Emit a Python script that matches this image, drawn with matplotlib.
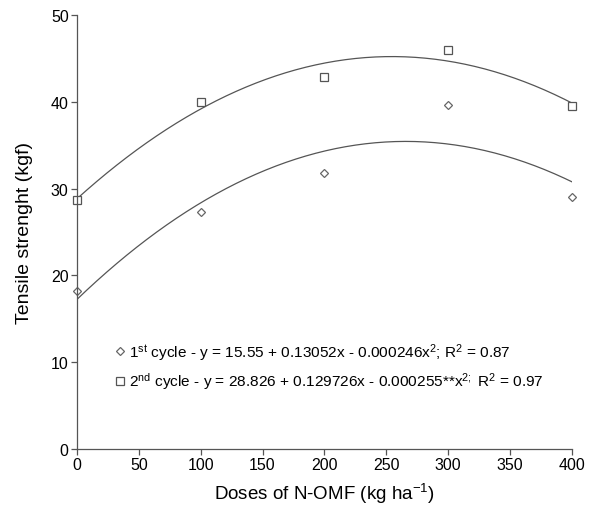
import numpy as np
import matplotlib
matplotlib.use('Agg')
import matplotlib.pyplot as plt

plt.rcParams['font.family'] = ['Liberation Sans', 'DejaVu Sans']
plt.rcParams['mathtext.fontset'] = 'custom'
plt.rcParams['mathtext.rm'] = 'Liberation Sans'
plt.rcParams['mathtext.it'] = 'Liberation Sans'

# data
doses = [0, 100, 200, 300, 400]
cycle1 = [18.2, 27.3, 31.8, 39.6, 29.0]
cycle2 = [28.7, 40.0, 42.9, 46.0, 39.5]

label1 = r'1$^{\rm st}$ cycle - y = 15.55 + 0.13052x - 0.000246x$^{2}$; R$^{2}$ = 0.87'
label2 = r'2$^{\rm nd}$ cycle - y = 28.826 + 0.129726x - 0.000255**x$^{2;}$ R$^{2}$ = 0.97'

# quadratic trendlines (least squares, as the spreadsheet does)
xs = np.linspace(0, 400, 200)
fit1 = np.polyval(np.polyfit(doses, cycle1, 2), xs)
fit2 = np.polyval(np.polyfit(doses, cycle2, 2), xs)

fig = plt.figure(figsize=(5.95, 5.06), dpi=100)
ax = fig.add_axes([0.1294, 0.1107, 0.8316, 0.8573])

line_col = '#555555'
ax.plot(xs, fit2, color=line_col, lw=0.9)
ax.plot(xs, fit1, color=line_col, lw=0.9)
h1, = ax.plot(doses, cycle1, linestyle='none', marker='D', ms=3.8, mfc='white',
              mec='#666666', mew=0.9, label=label1, clip_on=False)
h2, = ax.plot(doses, cycle2, linestyle='none', marker='s', ms=5.5, mfc='white',
              mec='#555555', mew=0.9, label=label2, clip_on=False)

ax.set_xlim(0, 400)
ax.set_ylim(0, 50)
ax.set_xticks(range(0, 401, 50))
ax.set_yticks(range(0, 51, 10))
for s in ['top', 'right']:
    ax.spines[s].set_visible(False)
for s in ['left', 'bottom']:
    ax.spines[s].set_color('#555555')
    ax.spines[s].set_linewidth(0.9)
ax.tick_params(direction='out', length=4, width=0.9, color='#555555',
               labelsize=11.5, pad=2)

ax.set_xlabel(r'Doses of N-OMF (kg ha$^{-1}$)', fontsize=13.5, labelpad=6)
ax.set_ylabel('Tensile strenght (kgf)', fontsize=14, labelpad=13)

ax.legend(handles=[h1, h2], loc='upper left', bbox_to_anchor=(0.065, 0.263),
          frameon=False, fontsize=11.1, handlelength=0.6, handletextpad=0.3,
          labelspacing=0.5, borderaxespad=0)

fig.savefig('out.png', dpi=100)
